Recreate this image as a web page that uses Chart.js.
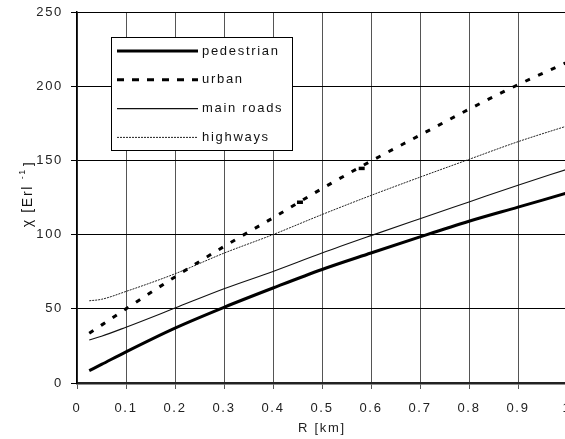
<!DOCTYPE html>
<html>
<head>
<meta charset="utf-8">
<script src="https://cdn.jsdelivr.net/npm/chart.js@4/dist/chart.umd.min.js"></script>
<style>
  html, body { margin: 0; padding: 0; background: #fff; overflow: hidden; }
  #wrap { width: 567px; height: 439px; }
</style>
</head>
<body>
<div id="wrap"><canvas id="chiChart"></canvas></div>
<script>
// values
const radius = [0.025, 0.05, 0.1, 0.2, 0.3, 0.4, 0.5, 0.6, 0.7, 0.8, 0.9, 1.0];
const pedestrian = [8.3, 12.5, 21, 37, 51, 64, 76.5, 87.6, 98.5, 109, 118.5, 128];
const urban = [33.6, 39, 50, 71.5, 92, 111.3, 131, 149.5, 167, 184.5, 201, 216];
const mainRoads = [29, 31.5, 37.6, 50.5, 63.5, 75.2, 87.6, 99.3, 110.7, 122, 133.3, 144];
const highways = [55.4, 56.4, 61.7, 73.6, 87.5, 100, 113.5, 126.4, 138.7, 150.7, 162.6, 173.2];
const urbanMarksX = [0.455, 0.581];
const urbanMarksY = [121.8, 144.6];
const xTicks = [0, 0.1, 0.2, 0.3, 0.4, 0.5, 0.6, 0.7, 0.8, 0.9, 1];
const yTicks = [0, 50, 100, 150, 200, 250];

const FONT = '"Liberation Sans", Arial, sans-serif';

function pts(ys) {
    return radius.map((x, i) => ({ x: x, y: ys[i] }));
}

const spacing = {
    id: 'spacing',
    beforeDraw(chart) {
        chart.ctx.letterSpacing = '1.7px';
    }
};

// legend in a framed box inside the plot
const boxLegend = {
    id: 'boxLegend',
    afterDraw(chart) {
        const ctx = chart.ctx;
        ctx.save();
        ctx.fillStyle = '#fff';
        ctx.fillRect(111, 37, 181, 113);
        ctx.strokeStyle = '#000';
        ctx.lineWidth = 1;
        ctx.strokeRect(111.5, 37.5, 181, 113);
        chart.data.datasets.filter(ds => ds.inLegend).forEach((ds, i) => {
            const y = 51 + i * 28.8;
            ctx.beginPath();
            ctx.setLineDash(ds.legendDash || ds.borderDash || []);
            ctx.lineWidth = ds.borderWidth;
            ctx.strokeStyle = ds.borderColor;
            ctx.moveTo(117, y);
            ctx.lineTo(198, y);
            ctx.stroke();
            ctx.setLineDash([]);
            ctx.fillStyle = '#111';
            ctx.font = '13px ' + FONT;
            ctx.textBaseline = 'middle';
            ctx.textAlign = 'left';
            ctx.fillText(ds.label, 202, y);
        });
        ctx.restore();
    }
};

// rotated y title with superscript
const yTitle = {
    id: 'yTitle',
    afterDraw(chart) {
        const ctx = chart.ctx;
        const main = 'χ [Erl ', sup = '-1', end = ']';
        ctx.save();
        ctx.translate(28, 194);
        ctx.rotate(-Math.PI / 2);
        ctx.fillStyle = '#111';
        ctx.textBaseline = 'middle';
        ctx.textAlign = 'left';
        ctx.font = '14px ' + FONT;
        const w1 = ctx.measureText(main).width;
        ctx.font = '13px ' + FONT;
        const w3 = ctx.measureText(end).width;
        ctx.font = '9px ' + FONT;
        const w2 = ctx.measureText(sup).width + 2;
        let x = -(w1 + w2 + w3) / 2;
        ctx.font = '14px ' + FONT;
        ctx.fillText(main, x, 0);
        x += w1;
        ctx.font = '9px ' + FONT;
        ctx.fillText(sup, x, -5);
        x += w2;
        ctx.font = '13px ' + FONT;
        ctx.fillText(end, x, 0);
        ctx.restore();
    }
};

const ctx = document.getElementById('chiChart');
new Chart(ctx, {
    type: 'line',
    data: {
        datasets: [
        {
            label: 'pedestrian',
            data: pts(pedestrian),
            borderColor: '#000',
            borderWidth: 3,
            inLegend: true,
        },
        {
            label: 'urban',
            data: pts(urban),
            borderColor: '#000',
            borderWidth: 3,
            borderDash: [5, 9],
            legendDash: [7, 8],
            inLegend: true,
        },
        {
            label: 'main roads',
            data: pts(mainRoads),
            borderColor: '#111',
            borderWidth: 1.1,
            inLegend: true,
        },
        {
            label: 'highways',
            data: pts(highways),
            borderColor: '#222',
            borderWidth: 1,
            borderDash: [2, 1],
            inLegend: true,
        },
        {
            label: 'urban marks',
            data: urbanMarksX.map((x, i) => ({ x: x, y: urbanMarksY[i] })),
            showLine: false,
            pointStyle: 'line',
            pointRadius: 3,
            pointBorderWidth: 3.5,
            pointBorderColor: '#000',
            inLegend: false,
        }
        ]
    },
    options: {
        responsive: true,
        maintainAspectRatio: false,
        animation: false,
        cubicInterpolationMode: 'monotone',
        elements: { point: { radius: 0 } },
        layout: { autoPadding: false, padding: { top: 12, right: 0, bottom: 0, left: 0 } },
        plugins: {
            legend: { display: false },
            tooltip: { enabled: false }
        },
        scales: {
            x: {
                type: 'linear',
                min: 0,
                max: 1,
                afterBuildTicks: s => { s.ticks = xTicks.map(v => ({ value: v })); },
                afterFit: s => { s.height = 56; s.paddingLeft = 0; s.paddingRight = 0; },
                grid: { color: '#555', lineWidth: 1, tickLength: 6 },
                border: { color: '#222', width: 2.5 },
                ticks: {
                    color: '#222',
                    font: { family: FONT, size: 13 },
                    padding: 12,
                    maxRotation: 0,
                    autoSkip: false,
                    callback: v => (v === 0 || v === 1) ? String(v) : v.toFixed(1)
                },
                title: {
                    display: true,
                    text: 'R [km]',
                    color: '#222',
                    font: { family: FONT, size: 13 },
                    padding: { top: 0, bottom: 3 }
                }
            },
            y: {
                min: 0,
                max: 250,
                afterBuildTicks: s => { s.ticks = yTicks.map(v => ({ value: v })); },
                afterFit: s => { s.width = 77; s.paddingTop = 0; s.paddingBottom = 0; },
                grid: { color: '#000', lineWidth: 1, tickLength: 6 },
                border: { color: '#000', width: 1.5 },
                ticks: {
                    color: '#222',
                    font: { family: FONT, size: 13 },
                    padding: 8
                }
            }
        }
    },
    plugins: [spacing, boxLegend, yTitle]
});
</script>
</body>
</html>
